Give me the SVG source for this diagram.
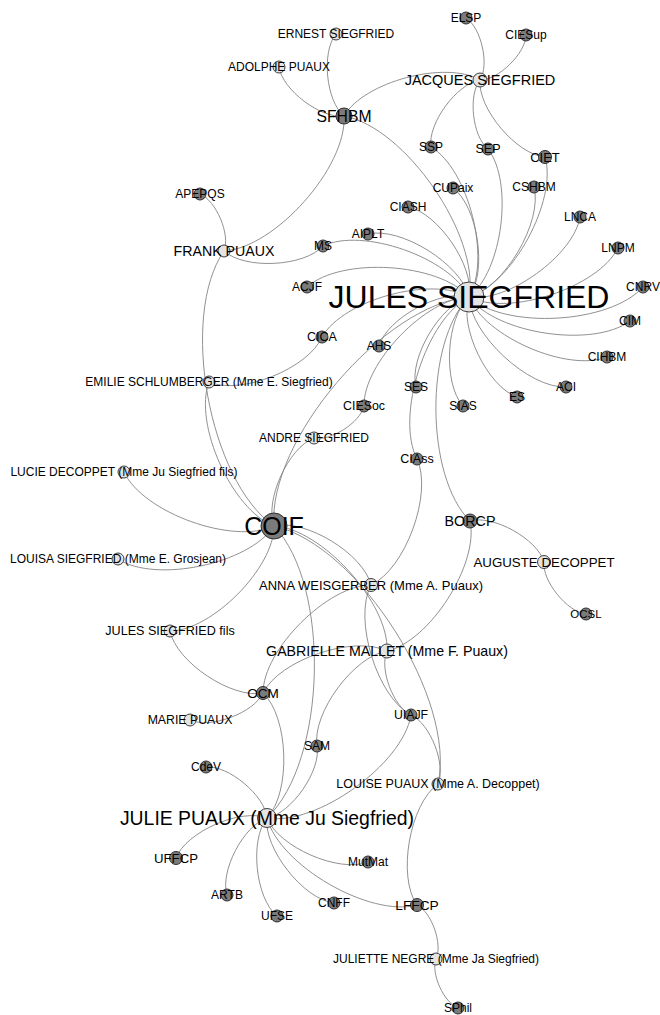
<svg xmlns="http://www.w3.org/2000/svg" width="660" height="1015" viewBox="0 0 660 1015">
<style>
text{font-family:"Liberation Sans",Arial,sans-serif;font-size:12px;fill:#000;text-anchor:middle;dominant-baseline:central}
.o{fill:#7b7b7b;stroke:#2f2f2f;stroke-width:1}
.p{fill:#e4e4e4;stroke:#3f3f3f;stroke-width:1}
#edges path{fill:none;stroke:#858585;stroke-width:0.9}
</style>
<rect width="660" height="1015" fill="#fff"/>
<g id="edges">
<path d="M466,18 C481.2,27.6 489.6,64.8 480,80"/>
<path d="M526,35 C525.8,53.2 498.2,80.2 480,80"/>
<path d="M344,116 C364,81.6 445.6,60 480,80"/>
<path d="M431,147 C427.4,123.8 456.8,83.6 480,80"/>
<path d="M488,149 C472.6,136.8 467.8,95.4 480,80"/>
<path d="M545,157 C516.6,154.6 477.6,108.4 480,80"/>
<path d="M344,116 C326,101.2 321.2,52 336,34"/>
<path d="M344,116 C321.2,119.2 282.2,89.8 279,67"/>
<path d="M344,116 C347,167 275,248 224,251"/>
<path d="M344,116 C405.2,127.2 480.2,235.8 469,297"/>
<path d="M431,147 C468.6,169.4 491.4,259.4 469,297"/>
<path d="M488,149 C513.8,182.4 502.4,271.2 469,297"/>
<path d="M545,157 C557.8,200.2 512.2,284.2 469,297"/>
<path d="M534,187 C543,222 504,288 469,297"/>
<path d="M453,188 C478,206.6 487.6,272 469,297"/>
<path d="M408,207 C438.2,212.8 474.8,266.8 469,297"/>
<path d="M580,217 C573.8,255.2 507.2,303.2 469,297"/>
<path d="M618,248 C598,287.6 508.6,317 469,297"/>
<path d="M643,287 C610.2,323.8 505.8,329.8 469,297"/>
<path d="M630,321 C593,348.4 496.4,334 469,297"/>
<path d="M607,357 C567.4,372.6 484.6,336.6 469,297"/>
<path d="M566,387 C528.6,388.4 470.4,334.4 469,297"/>
<path d="M517,397 C487.4,386.6 458.6,326.6 469,297"/>
<path d="M463,406 C442.4,383 446,317.6 469,297"/>
<path d="M416,387 C408.6,358.4 440.4,304.4 469,297"/>
<path d="M417,459 C395,416.2 426.2,319 469,297"/>
<path d="M470,521 C425,476.4 424.4,342 469,297"/>
<path d="M379,346 C387.2,318.2 441.2,288.8 469,297"/>
<path d="M364,406 C363.2,363.2 426.2,297.8 469,297"/>
<path d="M322,337 C343.4,299.6 431.6,275.6 469,297"/>
<path d="M307,287 C341.4,256.6 438.6,262.6 469,297"/>
<path d="M323,246 C362.4,227 450,257.6 469,297"/>
<path d="M368,234 C400.8,226.4 461.4,264.2 469,297"/>
<path d="M274,526 C267.2,441.2 384.2,303.8 469,297"/>
<path d="M323,246 C304.2,266.8 244.8,269.8 224,251"/>
<path d="M200,194 C216.2,200.6 230.6,234.8 224,251"/>
<path d="M274,526 C209,481 179,316 224,251"/>
<path d="M322,337 C308.4,368.6 240.6,395.6 209,382"/>
<path d="M274,526 C232.2,510.2 193.2,423.8 209,382"/>
<path d="M364,406 C360.4,422.4 330.4,441.6 314,438"/>
<path d="M274,526 C264.4,500.4 288.4,447.6 314,438"/>
<path d="M274,526 C233.2,545.2 143.2,512.8 124,472"/>
<path d="M274,526 C249.4,563.8 155.8,583.6 118,559"/>
<path d="M274,526 C274.2,567.8 211.8,630.8 170,631"/>
<path d="M274,526 C305.2,518.4 363.4,553.8 371,585"/>
<path d="M274,526 C321.6,528.4 389.4,603.4 387,651"/>
<path d="M274,526 C358.4,544.8 456.8,699.6 438,784"/>
<path d="M274,526 C331,585.8 326.8,761 267,818"/>
<path d="M417,459 C433,493.4 405.4,569 371,585"/>
<path d="M263,693 C263,649.8 327.8,585 371,585"/>
<path d="M411,715 C377,697 353,619 371,585"/>
<path d="M263,693 C279.4,659.8 353.8,634.6 387,651"/>
<path d="M317,746 C312,713 354,656 387,651"/>
<path d="M470,521 C479.4,563.6 429.6,641.6 387,651"/>
<path d="M411,715 C393.4,707 379,668.6 387,651"/>
<path d="M411,715 C430.2,723.4 446.4,764.8 438,784"/>
<path d="M411,715 C402.8,764.4 316.4,826.2 267,818"/>
<path d="M417,905 C397,876.6 409.6,804 438,784"/>
<path d="M417,905 C431.6,912 443,944.4 436,959"/>
<path d="M458,1008 C443.8,1002.6 430.6,973.2 436,959"/>
<path d="M417,905 C369.6,917.6 279.6,865.4 267,818"/>
<path d="M368,862 C339,873.4 278.4,847 267,818"/>
<path d="M334,903 C303.6,899.4 263.4,848.4 267,818"/>
<path d="M277,916 C255.4,898.4 249.4,839.6 267,818"/>
<path d="M227,895 C219.6,871.6 243.6,825.4 267,818"/>
<path d="M176,858 C186.2,831.8 240.8,807.8 267,818"/>
<path d="M206,767 C228.4,765 265,795.6 267,818"/>
<path d="M263,693 C288.8,717.2 291.2,792.2 267,818"/>
<path d="M317,746 C321.4,770.4 291.4,813.6 267,818"/>
<path d="M263,693 C232,699.2 176.2,662 170,631"/>
<path d="M263,693 C253.8,713 210,729.2 190,720"/>
<path d="M470,521 C493,514.4 537.4,539 544,562"/>
<path d="M586,614 C567.2,612 542,580.8 544,562"/>
</g>
<g id="n-ELSP"><circle class="o" cx="466" cy="18" r="6"/><text x="466" y="18">ELSP</text></g>
<g id="n-CIESup"><circle class="o" cx="526" cy="35" r="6"/><text x="526" y="35">CIESup</text></g>
<g id="n-ERNEST"><circle class="p" cx="336" cy="34" r="6"/><text x="336" y="34">ERNEST SIEGFRIED</text></g>
<g id="n-ADOLPHE"><circle class="p" cx="279" cy="67" r="6"/><text x="279" y="67">ADOLPHE PUAUX</text></g>
<g id="n-JACQUES"><circle class="p" cx="480" cy="80" r="7"/><text x="480" y="80" style="font-size:14.5px">JACQUES SIEGFRIED</text></g>
<g id="n-SFHBM"><circle class="o" cx="344" cy="116" r="8"/><text x="344" y="116" style="font-size:15.7px">SFHBM</text></g>
<g id="n-SSP"><circle class="o" cx="431" cy="147" r="6"/><text x="431" y="147">SSP</text></g>
<g id="n-SEP"><circle class="o" cx="488" cy="149" r="6"/><text x="488" y="149" style="font-size:12.5px">SEP</text></g>
<g id="n-CIET"><circle class="o" cx="545" cy="157" r="6.5"/><text x="545" y="157" style="font-size:13px">CIET</text></g>
<g id="n-CUPaix"><circle class="o" cx="453" cy="188" r="6"/><text x="453" y="188">CUPaix</text></g>
<g id="n-CSHBM"><circle class="o" cx="534" cy="187" r="6"/><text x="534" y="187">CSHBM</text></g>
<g id="n-APEPQS"><circle class="o" cx="200" cy="194" r="6"/><text x="200" y="194">APEPQS</text></g>
<g id="n-CIASH"><circle class="o" cx="408" cy="207" r="6"/><text x="408" y="207">CIASH</text></g>
<g id="n-LNCA"><circle class="o" cx="580" cy="217" r="6"/><text x="580" y="217">LNCA</text></g>
<g id="n-AIPLT"><circle class="o" cx="368" cy="234" r="6"/><text x="368" y="234">AIPLT</text></g>
<g id="n-MS"><circle class="o" cx="323" cy="246" r="6"/><text x="323" y="246">MS</text></g>
<g id="n-FRANK"><circle class="p" cx="224" cy="251" r="6"/><text x="224" y="251" style="font-size:14.2px">FRANK PUAUX</text></g>
<g id="n-LNPM"><circle class="o" cx="618" cy="248" r="6"/><text x="618" y="248">LNPM</text></g>
<g id="n-ACJF"><circle class="o" cx="307" cy="287" r="6"/><text x="307" y="287">ACJF</text></g>
<g id="n-CNRV"><circle class="o" cx="643" cy="287" r="6"/><text x="643" y="287">CNRV</text></g>
<g id="n-CIM"><circle class="o" cx="630" cy="321" r="6"/><text x="630" y="321">CIM</text></g>
<g id="n-CICA"><circle class="o" cx="322" cy="337" r="6"/><text x="322" y="337" style="font-size:12.5px">CICA</text></g>
<g id="n-AHS"><circle class="o" cx="379" cy="346" r="6"/><text x="379" y="346">AHS</text></g>
<g id="n-CIHBM"><circle class="o" cx="607" cy="357" r="6"/><text x="607" y="357">CIHBM</text></g>
<g id="n-EMILIE"><circle class="p" cx="209" cy="382" r="6"/><text x="209" y="382">EMILIE SCHLUMBERGER (Mme E. Siegfried)</text></g>
<g id="n-ACI"><circle class="o" cx="566" cy="387" r="6"/><text x="566" y="387">ACI</text></g>
<g id="n-SES"><circle class="o" cx="416" cy="387" r="6"/><text x="416" y="387">SES</text></g>
<g id="n-ES"><circle class="o" cx="517" cy="397" r="6"/><text x="517" y="397">ES</text></g>
<g id="n-SIAS"><circle class="o" cx="463" cy="406" r="6"/><text x="463" y="406">SIAS</text></g>
<g id="n-CIESoc"><circle class="o" cx="364" cy="406" r="6"/><text x="364" y="406" style="font-size:12.4px">CIESoc</text></g>
<g id="n-ANDRE"><circle class="p" cx="314" cy="438" r="6"/><text x="314" y="438">ANDRE SIEGFRIED</text></g>
<g id="n-LUCIE"><circle class="p" cx="124" cy="472" r="6"/><text x="124" y="472">LUCIE DECOPPET (Mme Ju Siegfried fils)</text></g>
<g id="n-CIAss"><circle class="o" cx="417" cy="459" r="6"/><text x="417" y="459" style="font-size:12.5px">CIAss</text></g>
<g id="n-JULES"><circle class="p" cx="469" cy="297" r="15"/><text x="469" y="297" style="font-size:32px">JULES SIEGFRIED</text></g>
<g id="n-COIF"><circle class="o" cx="274" cy="526" r="13"/><text x="274" y="526" style="font-size:25px">COIF</text></g>
<g id="n-BORCP"><circle class="o" cx="470" cy="521" r="7"/><text x="470" y="521" style="font-size:14.3px">BORCP</text></g>
<g id="n-AUGUSTE"><circle class="p" cx="544" cy="562" r="6.5"/><text x="544" y="562" style="font-size:13.3px">AUGUSTE DECOPPET</text></g>
<g id="n-LOUISA"><circle class="p" cx="118" cy="559" r="6"/><text x="118" y="559">LOUISA SIEGFRIED (Mme E. Grosjean)</text></g>
<g id="n-ANNA"><circle class="p" cx="371" cy="585" r="6.5"/><text x="371" y="585" style="font-size:13px">ANNA WEISGERBER (Mme A. Puaux)</text></g>
<g id="n-OCSL"><circle class="o" cx="586" cy="614" r="6"/><text x="586" y="614" style="font-size:11.5px">OCSL</text></g>
<g id="n-JULESF"><circle class="p" cx="170" cy="631" r="6"/><text x="170" y="631" style="font-size:12.6px">JULES SIEGFRIED fils</text></g>
<g id="n-GABRIELLE"><circle class="p" cx="387" cy="651" r="7"/><text x="387" y="651" style="font-size:14.2px">GABRIELLE MALLET (Mme F. Puaux)</text></g>
<g id="n-OCM"><circle class="o" cx="263" cy="693" r="6.5"/><text x="263" y="693" style="font-size:13.6px">OCM</text></g>
<g id="n-MARIE"><circle class="p" cx="190" cy="720" r="6"/><text x="190" y="720" style="font-size:12.3px">MARIE PUAUX</text></g>
<g id="n-UIAJF"><circle class="o" cx="411" cy="715" r="6"/><text x="411" y="715" style="font-size:12.3px">UIAJF</text></g>
<g id="n-SAM"><circle class="o" cx="317" cy="746" r="6"/><text x="317" y="746">SAM</text></g>
<g id="n-CdeV"><circle class="o" cx="206" cy="767" r="6"/><text x="206" y="767">CdeV</text></g>
<g id="n-LOUISE"><circle class="p" cx="438" cy="784" r="6"/><text x="438" y="784" style="font-size:12.5px">LOUISE PUAUX (Mme A. Decoppet)</text></g>
<g id="n-JULIE"><circle class="p" cx="267" cy="818" r="9.5"/><text x="267" y="818" style="font-size:19.4px">JULIE PUAUX (Mme Ju Siegfried)</text></g>
<g id="n-UFFCP"><circle class="o" cx="176" cy="858" r="6.5"/><text x="176" y="858" style="font-size:13.2px">UFFCP</text></g>
<g id="n-MutMat"><circle class="o" cx="368" cy="862" r="6"/><text x="368" y="862">MutMat</text></g>
<g id="n-ARTB"><circle class="o" cx="227" cy="895" r="6"/><text x="227" y="895">ARTB</text></g>
<g id="n-CNFF"><circle class="o" cx="334" cy="903" r="6"/><text x="334" y="903">CNFF</text></g>
<g id="n-LFFCP"><circle class="o" cx="417" cy="905" r="6.5"/><text x="417" y="905" style="font-size:13.7px">LFFCP</text></g>
<g id="n-UFSE"><circle class="o" cx="277" cy="916" r="6"/><text x="277" y="916">UFSE</text></g>
<g id="n-JULIETTE"><circle class="p" cx="436" cy="959" r="6"/><text x="436" y="959">JULIETTE NEGRE (Mme Ja Siegfried)</text></g>
<g id="n-SPhil"><circle class="o" cx="458" cy="1008" r="6"/><text x="458" y="1008">SPhil</text></g>
</svg>
